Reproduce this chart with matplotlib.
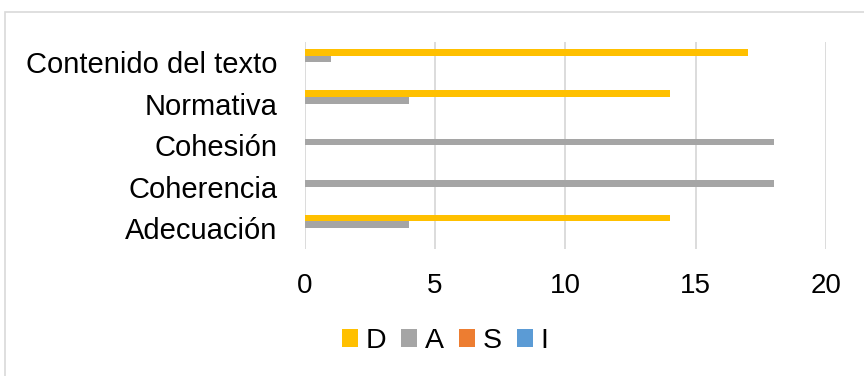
import matplotlib
matplotlib.use("Agg")
import matplotlib.pyplot as plt
from matplotlib.patches import Rectangle
import numpy as np

plt.rcParams['font.family'] = ['Liberation Sans', 'DejaVu Sans']

categories = ["Adecuación", "Coherencia", "Cohesión", "Normativa", "Contenido del texto"]
series_names = ["D", "A", "S", "I"]
values_D = [14, 0, 0, 14, 17]
values_A = [4, 18, 18, 4, 1]
values_S = [0, 0, 0, 0, 0]
values_I = [0, 0, 0, 0, 0]
colors = ["#FFC000", "#A5A5A5", "#ED7D31", "#5B9BD5"]
x_ticks = [0, 5, 10, 15, 20]

W, H = 864, 376
fig = plt.figure(figsize=(W / 100, H / 100), dpi=100)

# outer chart border (open towards the right and bottom edges)
fig.patches.append(Rectangle((5 / W, -0.5), 1.5, 0.5 + (H - 12) / H, transform=fig.transFigure,
                             fill=False, edgecolor="#D9D9D9", linewidth=1.2))

ax = fig.add_axes([304.5 / W, 1 - 249 / H, (826 - 304.5) / W, (249 - 41.7) / H])

y = np.arange(len(categories))
bar_h = 0.164
all_vals = [values_D, values_A, values_S, values_I]
for i, (name, vals, c) in enumerate(zip(series_names, all_vals, colors)):
    offset = (1.5 - i) * bar_h
    ax.barh(y + offset, vals, height=bar_h, color=c, label=name)

ax.set_xlim(0, 20)
ax.set_ylim(-0.5, len(categories) - 0.5)
ax.set_xticks(x_ticks)
ax.set_xticklabels([str(t) for t in x_ticks])
ax.set_yticks(y)
ax.set_yticklabels(categories)
ax.tick_params(axis="x", length=0, labelsize=20, pad=17)
ax.tick_params(axis="y", length=0, labelsize=21, pad=19.5)
ax.xaxis.grid(True, color="#D9D9D9", linewidth=1.3)
ax.set_axisbelow(True)
for s in ax.spines.values():
    s.set_visible(False)

ax.legend(loc="center", bbox_to_anchor=(445 / W, 1 - 341 / H), bbox_transform=fig.transFigure,
          ncol=4, frameon=False, fontsize=20.5, handlelength=0.56, handleheight=0.56,
          handletextpad=0.25, columnspacing=0.55, borderpad=0, borderaxespad=0)

fig.savefig("out.png", dpi=100)
